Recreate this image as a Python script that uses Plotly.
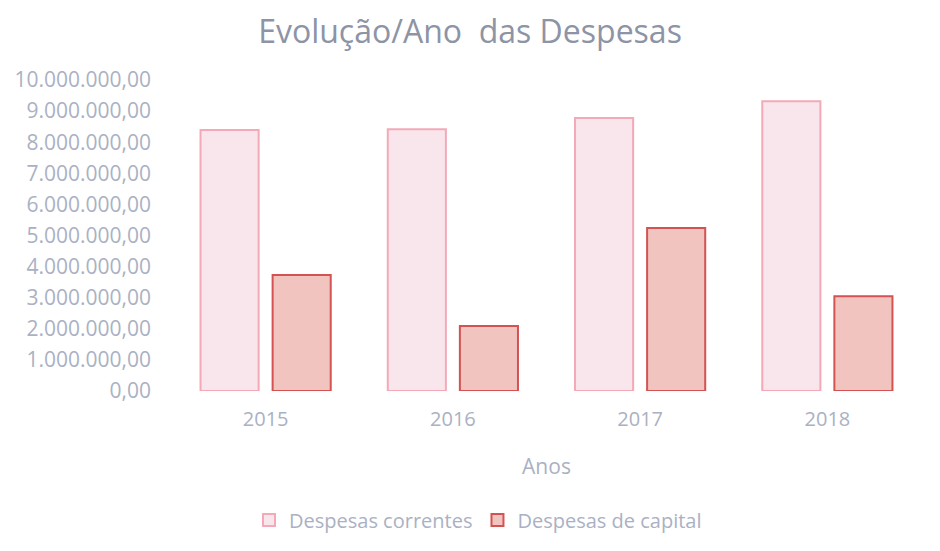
import plotly.graph_objects as go

anos = ["2015", "2016", "2017", "2018"]
correntes = [8390000, 8420000, 8780000, 9320000]
capital = [3730000, 2090000, 5240000, 3050000]
tick_vals = [0, 1e6, 2e6, 3e6, 4e6, 5e6, 6e6, 7e6, 8e6, 9e6, 1e7]
tick_text = ["0,00", "1.000.000,00", "2.000.000,00", "3.000.000,00", "4.000.000,00",
             "5.000.000,00", "6.000.000,00", "7.000.000,00", "8.000.000,00",
             "9.000.000,00", "10.000.000,00"]

font_family = "Open Sans, Noto Sans, sans-serif"
txt = "#AAB1C3"

fig = go.Figure()
fig.add_trace(go.Bar(
    x=anos, y=correntes, name="Despesas correntes",
    marker=dict(color="#F9E6EC", line=dict(color="#F3A9B8", width=2)),
))
fig.add_trace(go.Bar(
    x=anos, y=capital, name="Despesas de capital",
    marker=dict(color="#F2C4C0", line=dict(color="#D45252", width=2)),
))

fig.update_layout(
    width=940, height=551,
    paper_bgcolor="white", plot_bgcolor="white",
    barmode="group", bargap=0.23, bargroupgap=0.194,
    margin=dict(l=164, r=27, t=72, b=168, autoexpand=False),
    title=dict(text="Evolução/Ano&nbsp; das Despesas", x=0.4915, xref="container",
               y=0.957, yref="container", yanchor="middle",
               font=dict(family=font_family, size=32, color="#8D94A6")),
    font=dict(family=font_family, color=txt, size=20),
    xaxis=dict(showgrid=False, showline=False, ticks="", automargin=False,
               tickfont=dict(size=20, color=txt), ticklabelstandoff=14,
               title=dict(text="Anos", font=dict(size=21, color=txt), standoff=28)),
    yaxis=dict(range=[0, 1e7], tickvals=tick_vals, ticktext=tick_text,
               showgrid=False, zeroline=False, showline=False, ticks="",
               automargin=False, ticklabelstandoff=20,
               tickfont=dict(size=21, color=txt)),
    legend=dict(orientation="h", x=0.5, xanchor="center", xref="container",
                y=0.071, yref="container", yanchor="middle",
                font=dict(size=20, color=txt), itemsizing="constant",
                itemwidth=30),
)

fig.write_html("out.html")
